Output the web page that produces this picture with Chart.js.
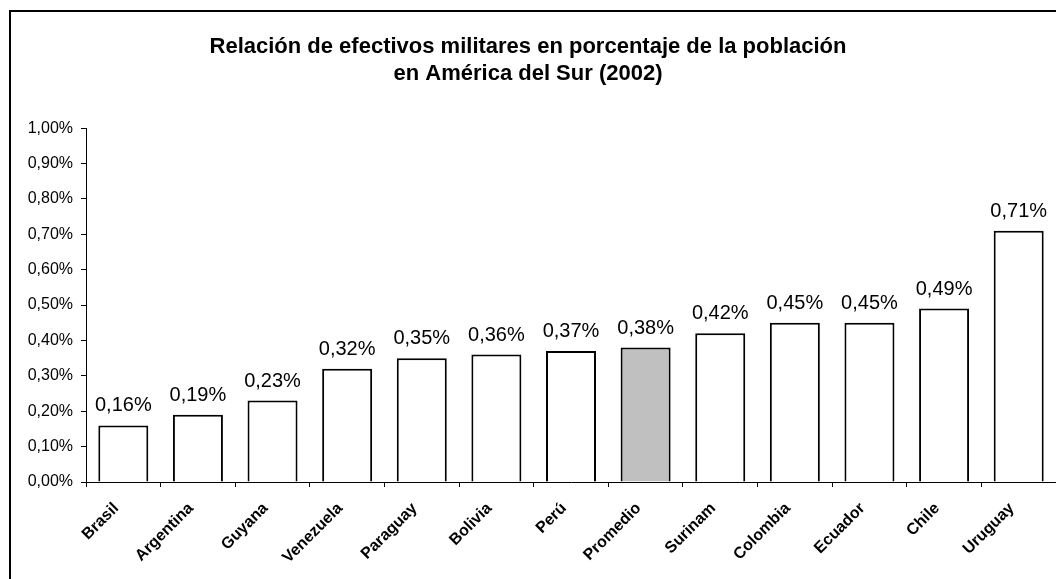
<!DOCTYPE html>
<html>
<head>
<meta charset="utf-8">
<script src="https://cdn.jsdelivr.net/npm/chart.js@4"></script>
<style>
    body { margin: 0; background: #ffffff; }
    #wrap { width: 1056px; height: 579px; }
</style>
</head>
<body>
<div id="wrap"><canvas id="militaryChart" width="1056" height="579"></canvas></div>
<script>
// Chart data
const countries = ['Brasil', 'Argentina', 'Guyana', 'Venezuela', 'Paraguay', 'Bolivia', 'Perú',
    'Promedio', 'Surinam', 'Colombia', 'Ecuador', 'Chile', 'Uruguay'];
const militaryShare = [0.16, 0.19, 0.23, 0.32, 0.35, 0.36, 0.37, 0.38, 0.42, 0.45, 0.45, 0.49, 0.71];
const titleLines = ['Relación de efectivos militares en porcentaje de la población', 'en América del Sur (2002)'];
const averageLabel = 'Promedio';

const FONT = '"Liberation Sans", Arial, sans-serif';

function pct(value) {
    return value.toFixed(2).replace('.', ',') + '%';
}

// Outer frame of the chart
const framePlugin = {
    id: 'frame',
    beforeDraw(chart) {
        const ctx = chart.ctx;
        ctx.save();
        ctx.fillStyle = '#ffffff';
        ctx.fillRect(0, 0, chart.width, chart.height);
        ctx.strokeStyle = '#000000';
        ctx.lineWidth = 2;
        ctx.strokeRect(10, 11, chart.width + 20, chart.height + 20);
        ctx.restore();
    }
};

// Value labels above bars
const valueLabels = {
    id: 'valueLabels',
    afterDatasetsDraw(chart) {
        const ctx = chart.ctx;
        const meta = chart.getDatasetMeta(0);
        ctx.save();
        ctx.font = '20px ' + FONT;
        ctx.fillStyle = '#000000';
        ctx.textAlign = 'center';
        ctx.textBaseline = 'alphabetic';
        meta.data.forEach((bar, i) => {
            ctx.fillText(pct(militaryShare[i]), bar.x, bar.y - 14);
        });
        ctx.restore();
    }
};

new Chart(document.getElementById('militaryChart'), {
    type: 'bar',
    data: {
        labels: countries,
        datasets: [{
            data: militaryShare,
            backgroundColor: countries.map(c => c === averageLabel ? '#c0c0c0' : '#ffffff'),
            borderColor: '#000000',
            borderWidth: 2,
            barPercentage: 0.67,
            categoryPercentage: 1.0
        }]
    },
    options: {
        responsive: false,
        animation: false,
        layout: {
            padding: { left: 0, right: 0, top: 0, bottom: 0 }
        },
        plugins: {
            legend: { display: false },
            tooltip: { enabled: false },
            title: {
                display: true,
                text: titleLines,
                color: '#000000',
                font: { family: FONT, size: 22, weight: 'bold', lineHeight: 1.23 },
                padding: { top: 33, bottom: 41 }
            }
        },
        scales: {
            x: {
                grid: {
                    drawOnChartArea: false,
                    color: '#000000',
                    tickLength: 5,
                    offset: true
                },
                border: { color: '#000000', width: 1 },
                ticks: {
                    color: '#000000',
                    font: { family: FONT, size: 16, weight: 'bold' },
                    minRotation: 45,
                    maxRotation: 45,
                    padding: 12,
                    labelOffset: -7
                },
                afterFit(scale) {
                    scale.height = 97;
                }
            },
            y: {
                min: 0,
                max: 1.0,
                grid: {
                    drawOnChartArea: false,
                    color: '#000000',
                    tickLength: 5
                },
                border: { color: '#000000', width: 1 },
                ticks: {
                    stepSize: 0.1,
                    color: '#000000',
                    padding: 8,
                    font: { family: FONT, size: 16 },
                    callback: function (value) {
                        return pct(value);
                    }
                },
                afterFit(scale) {
                    scale.width = 86;
                }
            }
        }
    },
    plugins: [framePlugin, valueLabels]
});
</script>
</body>
</html>
